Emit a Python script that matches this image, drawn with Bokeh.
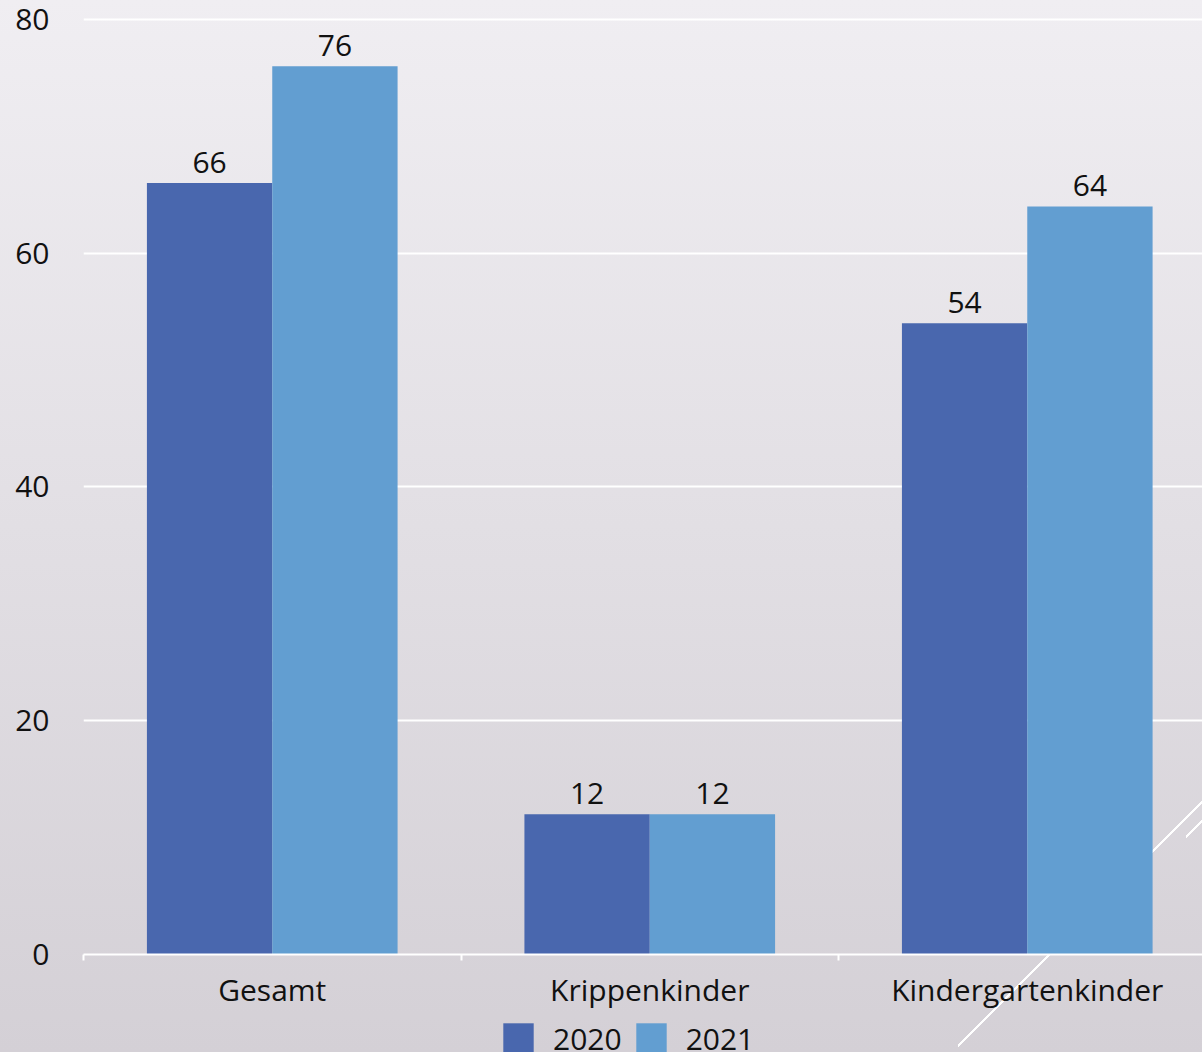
from bokeh.plotting import figure
from bokeh.layouts import column
from bokeh.models import (Range1d, FixedTicker, ColumnDataSource, Legend, LegendItem,
                          GlobalInlineStyleSheet)
from bokeh.core.properties import value
from bokeh.embed import file_html
from bokeh.resources import INLINE

# ---- data ----
categories = ["Gesamt", "Krippenkinder", "Kindergartenkinder"]
years = ["2020", "2021"]
values_2020 = [66, 12, 54]
values_2021 = [76, 12, 64]
y_ticks = [0, 20, 40, 60, 80]

# ---- style ----
FONT = "Open Sans"
FS = "30px"
TXT = "#111111"
C2020 = "#4967ae"
C2021 = "#629ed1"
BAR_W = 0.332

W = 1202
H_MAIN = 1012
H_LEG = 40

# page background: soft vertical gradient plus two thin white decorative diagonals
BG_CSS = (
    "html{height:100%;background:"
    "linear-gradient(135deg,transparent 180px,#fff 180px,#fff 182px,transparent 182px) 958px 790px/244px 262px no-repeat,"
    "linear-gradient(135deg,transparent 14.6px,#fff 14.6px,#fff 16.6px,transparent 16.6px) 1186px 815px/16px 30px no-repeat,"
    "linear-gradient(to bottom,#f0eef2 0%,#d4d0d6 100%) no-repeat;}"
    "body{background:transparent;}"
)

p = figure(width=W, height=H_MAIN, output_backend="svg", toolbar_location=None,
           x_range=Range1d(0, 2.9642), y_range=Range1d(0, 80.597),
           min_border_left=83, min_border_right=0, min_border_top=12, min_border_bottom=55)
p.background_fill_alpha = 0
p.border_fill_alpha = 0
p.outline_line_color = None
p.stylesheets = [GlobalInlineStyleSheet(css=BG_CSS)]

centers = [i + 0.5 for i in range(len(categories))]
src = ColumnDataSource(dict(
    cat=categories,
    x20=[c - BAR_W / 2 for c in centers],
    x21=[c + BAR_W / 2 for c in centers],
    v20=values_2020,
    v21=values_2021,
    t20=[str(v) for v in values_2020],
    t21=[str(v) for v in values_2021],
))

p.vbar(x="x20", top="v20", bottom=0, width=BAR_W, source=src,
       fill_color=C2020, line_color=None)
p.vbar(x="x21", top="v21", bottom=0, width=BAR_W, source=src,
       fill_color=C2021, line_color=None)

for xcol, tcol, vcol in [("x20", "t20", "v20"), ("x21", "t21", "v21")]:
    p.text(x=xcol, y=vcol, text=tcol, source=src, y_offset=-21,
           text_align="center", text_baseline="middle",
           text_font=value(FONT), text_font_size=FS, text_color=TXT)

# y axis
p.yaxis.ticker = FixedTicker(ticks=y_ticks)
p.yaxis.axis_line_color = None
p.yaxis.major_tick_line_color = None
p.yaxis.minor_tick_line_color = None
p.yaxis.major_tick_out = 0
p.yaxis.minor_tick_out = 0
p.yaxis.major_label_standoff = 34
p.yaxis.major_label_text_font = FONT
p.yaxis.major_label_text_font_size = FS
p.yaxis.major_label_text_color = TXT

p.ygrid.ticker = FixedTicker(ticks=y_ticks)
p.ygrid.grid_line_color = "white"
p.ygrid.grid_line_width = 2
p.xgrid.visible = False

# x axis
p.xaxis.ticker = FixedTicker(ticks=centers, minor_ticks=list(range(len(categories) + 1)))
p.xaxis.major_label_overrides = {c: cat for c, cat in zip(centers, categories)}
p.xaxis.axis_line_color = "white"
p.xaxis.axis_line_width = 2
p.xaxis.major_tick_line_color = None
p.xaxis.major_tick_out = 0
p.xaxis.major_tick_in = 0
p.xaxis.minor_tick_line_color = "white"
p.xaxis.minor_tick_line_width = 2
p.xaxis.minor_tick_out = 6
p.xaxis.minor_tick_in = 0
p.xaxis.major_label_standoff = 8
p.xaxis.major_label_text_font = FONT
p.xaxis.major_label_text_font_size = FS
p.xaxis.major_label_text_color = TXT

# ---- legend strip (separate small figure under the chart) ----
pl = figure(width=W, height=H_LEG, output_backend="svg", toolbar_location=None,
            x_range=Range1d(0, 1), y_range=Range1d(0, 1),
            x_axis_type=None, y_axis_type=None,
            min_border_left=0, min_border_right=0, min_border_top=0, min_border_bottom=0)
pl.background_fill_alpha = 0
pl.border_fill_alpha = 0
pl.outline_line_color = None
pl.grid.visible = False
# off-screen proxy glyphs that only supply the legend swatches
proxy = ColumnDataSource(dict(x=[-5.0], top=[0.0]))
lr1 = pl.vbar(x="x", top="top", width=0.1, source=proxy, fill_color=C2020, line_color=None)
lr2 = pl.vbar(x="x", top="top", width=0.1, source=proxy, fill_color=C2021, line_color=None)

legend = Legend(items=[LegendItem(label=years[0], renderers=[lr1]),
                       LegendItem(label=years[1], renderers=[lr2])],
                location=(416, -6.5), orientation="horizontal",
                glyph_width=38, glyph_height=38, label_standoff=16, spacing=10,
                padding=0, margin=0, background_fill_alpha=0, border_line_alpha=0,
                label_text_font=FONT, label_text_font_size=FS, label_text_color=TXT)
pl.add_layout(legend)

layout = column(p, pl, spacing=0)
open("out.html", "w").write(file_html(layout, INLINE))
